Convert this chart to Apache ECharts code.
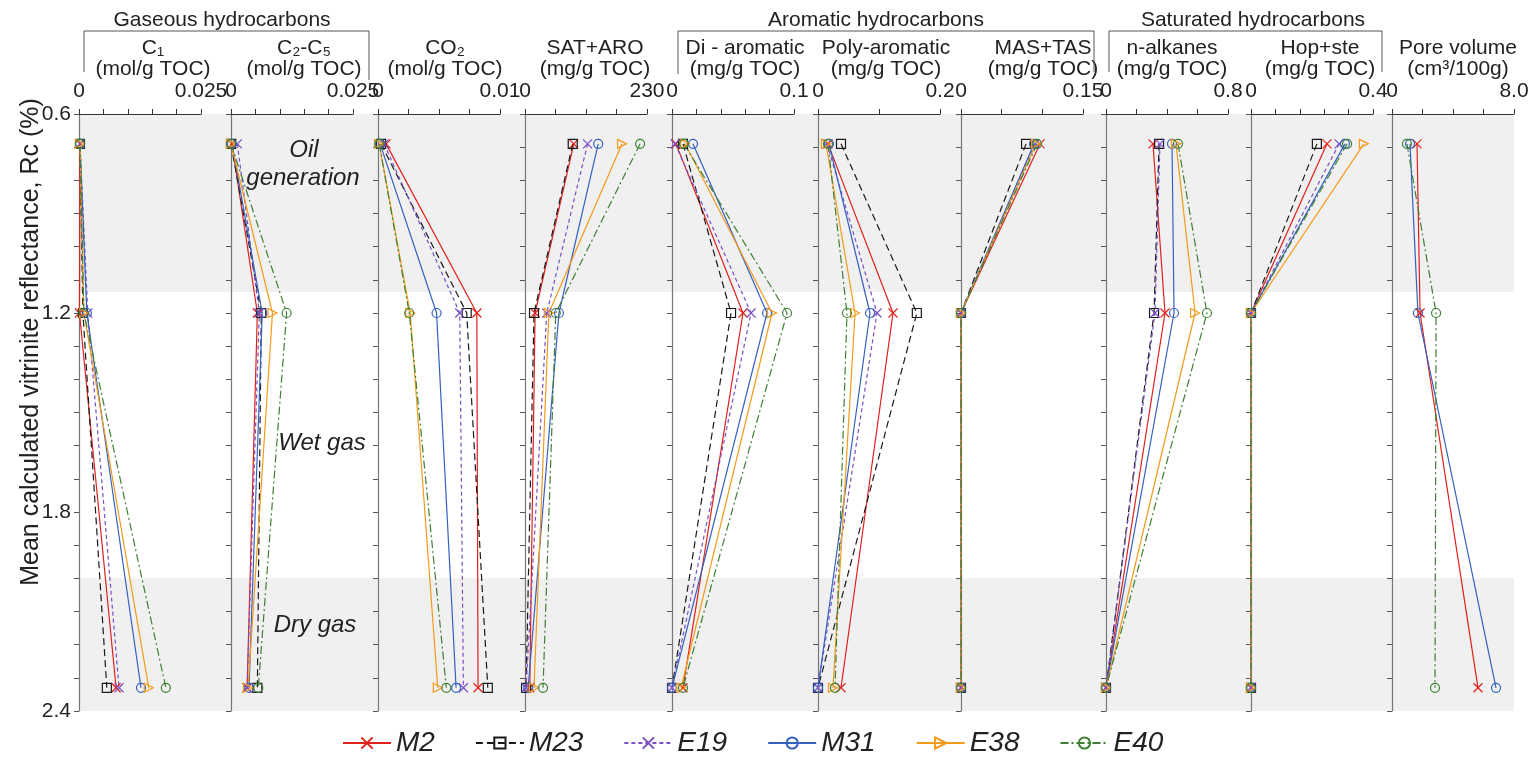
<!DOCTYPE html>
<html><head><meta charset="utf-8">
<script src="https://cdn.jsdelivr.net/npm/echarts@6/dist/echarts.min.js"></script>
<style>html,body{margin:0;padding:0;background:#fff}#c{width:1534px;height:760px}</style>
</head><body><div id="c"></div>
<script>
const FONT = '"Liberation Sans", Arial, sans-serif';

// ---------- data ----------
const samples = ['M2', 'M23', 'E19', 'M31', 'E38', 'E40'];
const rc = [0.69, 1.2, 2.33];                 // Rc (%) of the three maturity stages
const zoneBands = [[0.6, 1.137], [2.0, 2.4]]; // shaded Rc ranges
const yTickLabels = ['0.6', '1.2', '1.8', '2.4'];

const panelTitles = [
  ['C\u2081', '(mol/g TOC)'],
  ['C\u2082-C\u2085', '(mol/g TOC)'],
  ['CO\u2082', '(mol/g TOC)'],
  ['SAT+ARO', '(mg/g TOC)'],
  ['Di - aromatic', '(mg/g TOC)'],
  ['Poly-aromatic', '(mg/g TOC)'],
  ['MAS+TAS', '(mg/g TOC)'],
  ['n-alkanes', '(mg/g TOC)'],
  ['Hop+ste', '(mg/g TOC)'],
  ['Pore volume', '(cm\u00B3/100g)']
];
const xMax = [0.025, 0.025, 0.01, 230, 0.1, 0.2, 0.15, 0.8, 0.4, 8];
const xInterval = [0.005, 0.005, 0.0025, 57.5, 0.02, 0.1, 0.05, 0.2, 0.08, 2];
const xMaxLabels = ['0.025', '0.025', '0.01', '230', '0.1', '0.2', '0.15', '0.8', '0.4', '8.0'];
const groupTitles = ['Gaseous hydrocarbons', 'Aromatic hydrocarbons', 'Saturated hydrocarbons'];
const zoneTexts = ['Oil', 'generation', 'Wet gas', 'Dry gas'];

// values at Rc = rc[0], rc[1], rc[2]; rows ordered as samples
const C1 = [
  [0.0002, 0.0001, 0.0076],
  [0.0002, 0.0008, 0.0057],
  [0.0002, 0.0018, 0.0082],
  [0.0002, 0.0016, 0.0127],
  [0.0002, 0.0010, 0.0143],
  [0.0002, 0.0010, 0.0178]
];
const C2C5 = [
  [0.0002, 0.0054, 0.0033],
  [0.0000, 0.0062, 0.0054],
  [0.0013, 0.0058, 0.0033],
  [0.0002, 0.0064, 0.0037],
  [0.0000, 0.0085, 0.0035],
  [0.0000, 0.0114, 0.0056]
];
const CO2 = [
  [0.00066, 0.0081, 0.0082],
  [0.00025, 0.00727, 0.0090],
  [0.0005, 0.0067, 0.0070],
  [0.00017, 0.0048, 0.0064],
  [0.0001, 0.00264, 0.0049],
  [0.0001, 0.00256, 0.0056]
];
const SATARO = [
  [92, 19, 9],
  [90, 17, 2],
  [118, 41, 2],
  [138, 64, 6],
  [183, 45, 17],
  [217, 58, 34]
];
const DiArom = [
  [0.0033, 0.0582, 0.009],
  [0.009, 0.0484, 0.0],
  [0.0025, 0.0648, 0.0],
  [0.0172, 0.0779, 0.0],
  [0.0107, 0.082, 0.0074],
  [0.0098, 0.0943, 0.009]
];
const PolyArom = [
  [0.0164, 0.123, 0.0377],
  [0.0377, 0.162, 0.0],
  [0.0148, 0.0967, 0.0],
  [0.018, 0.0852, 0.0],
  [0.0131, 0.0607, 0.0246],
  [0.0164, 0.0475, 0.0279]
];
const MASTAS = [
  [0.0972, 0, 0],
  [0.080, 0, 0],
  [0.091, 0, 0],
  [0.0898, 0, 0],
  [0.0922, 0, 0],
  [0.0935, 0, 0]
];
const nAlk = [
  [0.308, 0.387, 0],
  [0.348, 0.315, 0],
  [0.354, 0.321, 0],
  [0.433, 0.446, 0],
  [0.459, 0.584, 0],
  [0.472, 0.662, 0]
];
const HopSte = [
  [0.249, 0, 0],
  [0.216, 0, 0],
  [0.289, 0, 0],
  [0.308, 0, 0],
  [0.370, 0, 0],
  [0.315, 0, 0]
];
const Pore = [
  [1.64, 1.84, 5.64],
  null,
  null,
  [1.18, 1.70, 6.82],
  null,
  [0.98, 2.89, 2.82]
];
const panelData = [C1, C2C5, CO2, SATARO, DiArom, PolyArom, MASTAS, nAlk, HopSte, Pore];

// ---------- styles / layout ----------
const colors = ['#e0201b', '#1a1a1a', '#7a4fc4', '#3660c0', '#f39a1b', '#3f7f33'];
const dashes = ['solid', [7, 4], [4, 3], 'solid', 'solid', [8, 3, 2, 3]];
const CROSS = 'path://M0,0L10,10M0,10L10,0';
const TRI = 'path://M0,0L9,5L0,10Z';
const symbols = [CROSS, 'rect', CROSS, 'circle', TRI, 'circle'];

const panelLefts = [79, 231, 378, 525, 672, 818, 961, 1106, 1251, 1392];
const PW = 122, TOP = 114, BOTTOM = 49;
const titleCenters = [153, 304, 445, 595, 745, 886, 1043, 1172, 1320, 1458];

const grids = [], xAxes = [], yAxes = [], series = [];

// background grid for shaded zones
grids.push({left: 79, right: 20, top: TOP, bottom: BOTTOM});
xAxes.push({gridIndex: 0, type: 'value', min: 0, max: 1, show: false});
yAxes.push({gridIndex: 0, type: 'value', inverse: true, min: 0.6, max: 2.4, show: false});
series.push({
  type: 'line', xAxisIndex: 0, yAxisIndex: 0, data: [], silent: true, z: 0, zlevel: 0,
  markArea: {
    silent: true,
    itemStyle: {color: '#f0f0f0'},
    data: zoneBands.map(b => [{yAxis: b[0]}, {yAxis: b[1]}])
  }
});

panelData.forEach((pd, p) => {
  const gi = p + 1;
  grids.push({left: panelLefts[p], width: PW, top: TOP, bottom: BOTTOM});
  xAxes.push({
    gridIndex: gi, type: 'value', position: 'top', min: 0, max: xMax[p], interval: xInterval[p], z: 5,
    axisLine: {show: true, onZero: false, lineStyle: {color: '#333', width: 1}},
    axisTick: {show: true, length: 5, lineStyle: {color: '#333'}},
    axisLabel: {
      fontSize: 21, color: '#222', fontFamily: FONT, margin: 12,
      formatter: v => Math.abs(v) < 1e-12 ? '0' : (Math.abs(v - xMax[p]) < 1e-9 ? xMaxLabels[p] : '')
    },
    splitLine: {show: false}
  });
  yAxes.push({
    gridIndex: gi, type: 'value', inverse: true, min: 0.6, max: 2.4, interval: 0.1, z: 5,
    axisLine: {show: true, onZero: false, lineStyle: {color: '#777', width: 1.2}},
    axisTick: {show: true, length: 5, lineStyle: {color: '#555'}},
    axisLabel: {
      show: p === 0, fontSize: 21, color: '#222', fontFamily: FONT, margin: 8,
      formatter: v => { const k = Math.round(v * 10); return k % 6 === 0 ? yTickLabels[k / 6 - 1] : ''; }
    },
    splitLine: {show: false}
  });
  pd.forEach((vals, s) => {
    if (!vals) return;
    series.push({
      name: samples[s], type: 'line', xAxisIndex: gi, yAxisIndex: gi,
      data: vals.map((v, k) => [v, rc[k]]),
      symbol: symbols[s], symbolSize: 9, clip: false, z: 6,
      lineStyle: {color: colors[s], width: 1.2, type: dashes[s]},
      itemStyle: {color: 'transparent', borderColor: colors[s], borderWidth: 1.2},
      emphasis: {disabled: true}
    });
  });
});

// ---------- decorations ----------
const graphic = [];
const txt = (x, y, text, size, italic, extra) => Object.assign({
  type: 'text', x, y, silent: true, z: 20,
  style: {text, font: (italic ? 'italic ' : '') + size + 'px ' + FONT, fill: '#222',
          textAlign: 'center', textVerticalAlign: 'middle'}
}, extra || {});
panelTitles.forEach((t, p) => {
  graphic.push(txt(titleCenters[p], 48, t[0], 21));
  graphic.push(txt(titleCenters[p], 69, t[1], 21));
});
[[222, 84, 369, 72, 80], [876, 678, 1094, 74, 72], [1253, 1109, 1382, 72, 72]].forEach((g, i) => {
  graphic.push(txt(g[0], 20, groupTitles[i], 21));
  graphic.push({type: 'polyline', silent: true, z: 20,
    shape: {points: [[g[1], g[3]], [g[1], 31], [g[2], 31], [g[2], g[4]]]},
    style: {stroke: '#555', lineWidth: 1, fill: null}});
});
graphic.push(txt(304, 150, zoneTexts[0], 24, true));
graphic.push(txt(303, 178, zoneTexts[1], 24, true));
graphic.push(txt(322, 443, zoneTexts[2], 24, true));
graphic.push(txt(315, 625, zoneTexts[3], 24, true));
graphic.push(txt(31, 342, 'Mean calculated vitrinite reflectance, Rc (%)', 25, false, {rotation: Math.PI / 2}));

const chart = echarts.init(document.getElementById('c'), null, {renderer: 'canvas'});
chart.setOption({
  animation: false,
  backgroundColor: '#fff',
  grid: grids, xAxis: xAxes, yAxis: yAxes, series,
  legend: {
    data: samples, left: 337, top: 724, itemWidth: 48, itemHeight: 14, itemGap: 40,
    textStyle: {fontSize: 28, fontStyle: 'italic', fontFamily: FONT, color: '#222'},
    selectedMode: false
  },
  graphic
});
</script></body></html>
